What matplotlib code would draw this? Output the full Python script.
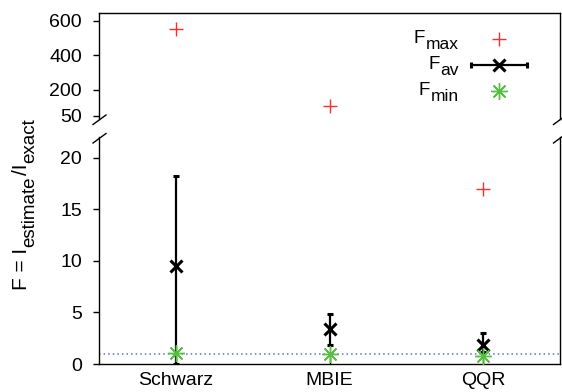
import numpy as np
import matplotlib.pyplot as plt
from matplotlib.lines import Line2D
from matplotlib.transforms import IdentityTransform

plt.rcParams['font.family'] = ['Liberation Sans', 'DejaVu Sans']
plt.rcParams['font.size'] = 14

methods = ['Schwarz', 'MBIE', 'QQR']
f_max = [554, 107, 17.0]
f_av = [9.5, 3.4, 1.85]
f_av_low = [0.0, 1.88, 1.2]
f_av_high = [18.2, 4.84, 3.0]
f_min = [1.04, 1.0, 0.8]

x = np.arange(1, len(methods) + 1)
av = np.array(f_av)
yerr = [av - np.array(f_av_low), np.array(f_av_high) - av]
bot_lim = (0, 22)
top_lim = (30, 645)

red = '#ff2a2a'
green = '#55c040'
blue = '#5c6fd6'

fig = plt.figure(figsize=(5.62, 3.92), dpi=100)
ax_top = fig.add_axes([0.1762, 0.6964, 0.8203, 0.2704])
ax_bot = fig.add_axes([0.1762, 0.0714, 0.8203, 0.5791])

# maxima above the lower range go in the upper panel
fmax = np.array(f_max, dtype=float)
ax_top.plot(x, np.where(fmax > bot_lim[1], fmax, np.nan), ls='none', marker='+',
            ms=10, mew=1.0, color=red, zorder=4)
ax_bot.plot(x, np.where(fmax <= bot_lim[1], fmax, np.nan), ls='none', marker='+',
            ms=10, mew=1.0, color=red, zorder=4)
ax_bot.errorbar(x, f_av, yerr=yerr, fmt='x', ms=9, mew=2.2, color='black',
                elinewidth=1.6, capsize=2.5, capthick=1.6, zorder=3)
ax_bot.plot(x, f_min, ls='none', marker=(8, 2, 0), ms=12, mew=1.0, color=green, zorder=5)
ax_bot.axhline(1, color=blue, ls=(0, (1, 2)), lw=1.1, zorder=1)

for ax in (ax_top, ax_bot):
    ax.set_xlim(0.5, 3.5)
    for s in ax.spines.values():
        s.set_linewidth(1.0)
    ax.tick_params(axis='y', direction='out', length=4.3, width=1.0, pad=8)

ax_top.set_ylim(*top_lim)
ax_top.set_yticks([50, 200, 400, 600])
ax_top.spines['bottom'].set_visible(False)
ax_top.tick_params(axis='x', bottom=False, labelbottom=False)

ax_bot.set_ylim(*bot_lim)
ax_bot.set_yticks([0, 5, 10, 15, 20])
ax_bot.spines['top'].set_visible(False)
ax_bot.set_xticks(x)
ax_bot.set_xticklabels(methods)
ax_bot.tick_params(axis='x', direction='in', length=5, width=1.0, pad=6)

W, H = 562.0, 392.0

# break marks between the two panels
for xc in (99.5, 560.0):
    for y0, y1 in ((124.5, 115.0), (143.0, 133.5)):
        fig.add_artist(Line2D([(xc - 6.5) / W, (xc + 6.5) / W],
                              [1 - y0 / H, 1 - y1 / H],
                              color='black', lw=1.0))

renderer = fig.canvas.get_renderer()
ident = IdentityTransform()


def rich_text(px, py, pieces, vertical=False, right=False):
    """Write text pieces (string, size, baseline drop in px) one after another,
    starting from pixel (px, py) measured from the top-left corner."""
    arts = []
    for s, size, drop in pieces:
        t = fig.text(0, 0, s, fontsize=size, transform=ident,
                     rotation=90 if vertical else 0, rotation_mode='anchor',
                     ha='left', va='baseline')
        arts.append((t, drop))
    lens = []
    for t, _ in arts:
        bb = t.get_window_extent(renderer)
        lens.append((bb.height if vertical else bb.width) + 1)
    pos = -sum(lens) if right else 0.0
    for (t, drop), ln in zip(arts, lens):
        if vertical:
            t.set_position((px + drop, H - py + pos))
        else:
            t.set_position((px + pos, H - py - drop))
        pos += ln


# legend: labels right-aligned, symbols after them
rows_px = [43, 69, 95]
for yy, sub in zip(rows_px, ['max', 'av', 'min']):
    rich_text(460, yy, [('F', 13.5, 0), (sub, 12.5, 6)], right=True)


def ax_frac(ypx):
    return 1 - (ypx - 13) / 106.0


mx = (499 - 99) / 461.0
ax_top.plot([mx], [ax_frac(39)], transform=ax_top.transAxes, marker='+', ms=10,
            mew=1.0, color=red, ls='none', clip_on=False)
ax_top.errorbar([mx], [ax_frac(65)], xerr=[0.06], transform=ax_top.transAxes,
                fmt='x', ms=9, mew=2.2, color='black', elinewidth=1.6,
                capsize=2.5, capthick=1.6, clip_on=False)
ax_top.plot([mx], [ax_frac(91)], transform=ax_top.transAxes, marker=(8, 2, 0),
            ms=12, mew=1.0, color=green, ls='none', clip_on=False)

# axis title with full-size subscripts
rich_text(27, 290, [('F = I', 15, 0), ('estimate', 13.5, 7),
                    ('/I', 15, 0), ('exact', 13.5, 7)], vertical=True)

fig.savefig('out.png', dpi=100)
